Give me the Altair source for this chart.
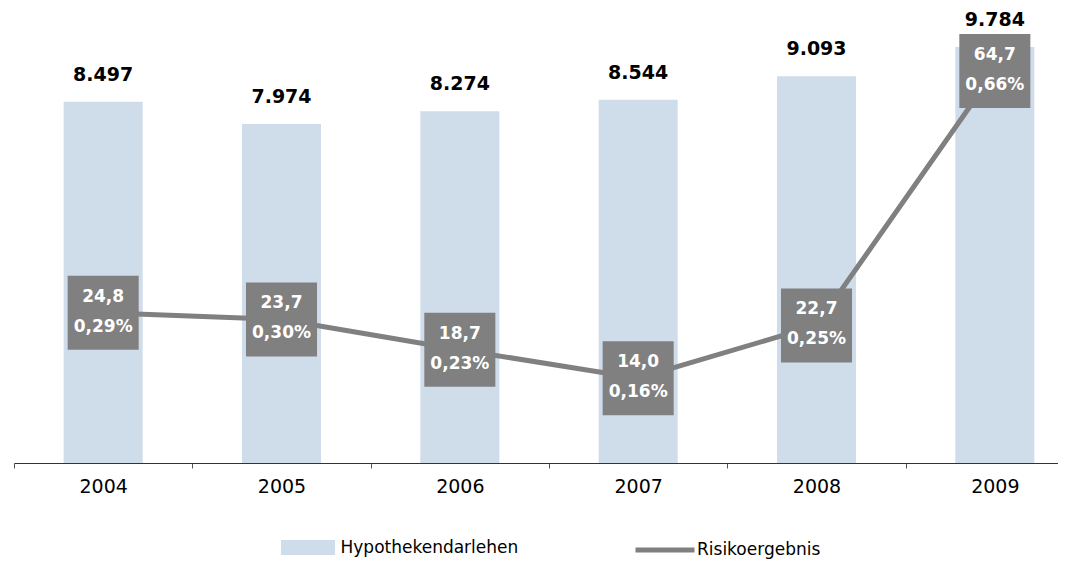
import altair as alt
import pandas as pd

years = ["2004", "2005", "2006", "2007", "2008", "2009"]
loans = [8497, 7974, 8274, 8544, 9093, 9784]
loan_labels = ["8.497", "7.974", "8.274", "8.544", "9.093", "9.784"]
risk = [24.8, 23.7, 18.7, 14.0, 22.7, 64.7]
risk_labels = ["24,8", "23,7", "18,7", "14,0", "22,7", "64,7"]
risk_pct = ["0,29%", "0,30%", "0,23%", "0,16%", "0,25%", "0,66%"]
series = ["Hypothekendarlehen", "Risikoergebnis"]

df = pd.DataFrame({
    "year": years,
    "loans": loans,
    "loan_label": loan_labels,
    "risk": risk,
    "box": [a + "\n" + b for a, b in zip(risk_labels, risk_pct)],
    "s_bar": series[0],
    "s_line": series[1],
})

FONT = "DejaVu Sans"
BAR_C = "#CFDCEA"
GREY = "#808080"

x = alt.X("year:N", scale=alt.Scale(range=[0, 1070], paddingInner=0, paddingOuter=0),
          axis=alt.Axis(title=None, labelAngle=0, tickBand="extent", tickSize=5,
                        domainColor="#333333", tickColor="#555555", labelFontSize=19,
                        labelFont=FONT, labelColor="black", labelPadding=9, grid=False))

ybar = alt.Scale(domain=[0, 10701], nice=False, zero=True)
yline = alt.Scale(domain=[0, 75.1], nice=False, zero=True)

bar_legend = alt.Legend(
    title=None, orient="none", legendX=264.5, legendY=510,
    labelFont=FONT, labelFontSize=17, labelColor="black", labelLimit=0,
    symbolType="M-0.915,-0.254H0.915V0.254H-0.915Z", symbolSize=3481, symbolStrokeWidth=0,
    labelOffset=3, symbolOpacity=1,
)
line_legend = alt.Legend(
    title=None, orient="none", legendX=619, legendY=510,
    labelFont=FONT, labelFontSize=17, labelColor="black", labelLimit=0,
    symbolType="stroke", symbolSize=3481, symbolStrokeWidth=5,
    labelOffset=0, symbolOpacity=1,
)

base = alt.Chart(df)

bars = base.mark_bar(width=79).encode(
    x=x,
    y=alt.Y("loans:Q", scale=ybar, axis=None),
    fill=alt.Fill("s_bar:N", scale=alt.Scale(domain=[series[0]], range=[BAR_C]), legend=bar_legend),
)

bar_text = base.mark_text(dy=-27, fontSize=19, fontWeight="bold", font=FONT, color="black").encode(
    x=x, y=alt.Y("loans:Q", scale=ybar, axis=None), text="loan_label:N")

line = base.mark_line(strokeWidth=5).encode(
    x=x,
    y=alt.Y("risk:Q", scale=yline, axis=None),
    stroke=alt.Stroke("s_line:N", scale=alt.Scale(domain=[series[1]], range=[GREY]), legend=line_legend),
)

boxes = base.mark_point(shape="M-0.96,-1H0.96V1H-0.96Z", size=5476, filled=True,
                        color=GREY, opacity=1, strokeWidth=0).encode(
    x=x, y=alt.Y("risk:Q", scale=yline, axis=None))

box_text = base.mark_text(lineBreak="\n", fontSize=17, fontWeight="bold", font=FONT,
                          color="white", lineHeight=30, baseline="middle", dy=-16).encode(
    x=x, y=alt.Y("risk:Q", scale=yline, axis=None), text="box:N")

chart = alt.layer(bars, bar_text, line, boxes, box_text).resolve_scale(
    y="independent"
).properties(
    width=1044, height=455,
    padding={"left": 6, "top": 0, "right": 0, "bottom": 97},
    autosize=alt.AutoSizeParams(type="none"),
).configure_view(stroke=None)

chart.save("out.html", embed_options={"renderer": "svg", "actions": False})
